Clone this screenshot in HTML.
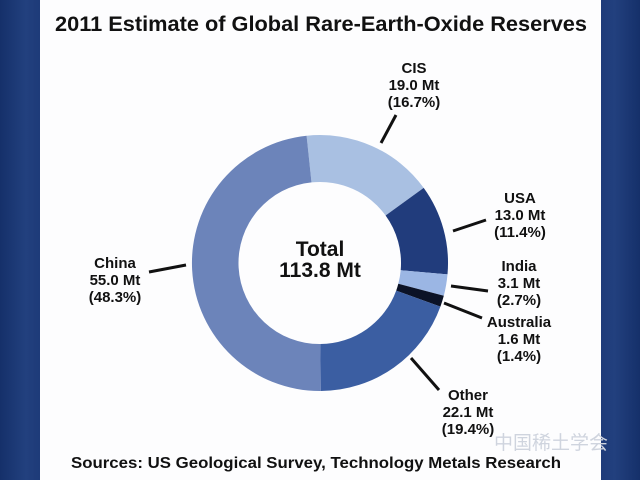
<!DOCTYPE html>
<html><head><meta charset="utf-8"><style>
html,body{margin:0;padding:0;width:640px;height:480px;overflow:hidden;background:#1b3672}
.bg{position:absolute;left:0;top:0;width:640px;height:480px;background:linear-gradient(90deg,#15306a 0%,#22407e 4%,#1d3a78 6.5%,#1d3a78 93.5%,#22407e 96%,#15306a 100%)}
svg{position:absolute;left:0;top:0}
text{font-family:"Liberation Sans",Arial,sans-serif;font-weight:bold;fill:#111}
</style></head><body>
<div class="bg"></div>
<svg width="640" height="480" viewBox="0 0 640 480">
<rect x="40" y="0" width="561" height="480" fill="#fdfdfe"/>
<text x="321" y="31" font-size="21" text-anchor="middle" textLength="532" lengthAdjust="spacingAndGlyphs">2011 Estimate of Global Rare-Earth-Oxide Reserves</text>
<!-- donut -->
<path d="M306.6,135.7 A128,128 0 0 1 423.7,187.9 L385.6,215.5 A81,81 0 0 0 311.5,182.4 Z" fill="#a9c0e2"/>
<path d="M423.7,187.9 A128,128 0 0 1 447.5,274.4 L400.7,270.2 A81,81 0 0 0 385.6,215.5 Z" fill="#213c7c"/>
<path d="M447.5,274.4 A128,128 0 0 1 443.8,295.7 L398.3,283.7 A81,81 0 0 0 400.7,270.2 Z" fill="#9bb6e4"/>
<path d="M443.8,295.7 A128,128 0 0 1 440.4,306.6 L396.2,290.6 A81,81 0 0 0 398.3,283.7 Z" fill="#0b1226"/>
<path d="M440.4,306.6 A128,128 0 0 1 320.7,391 L320.4,344 A81,81 0 0 0 396.2,290.6 Z" fill="#3b5ea2"/>
<path d="M320.7,391 A128,128 0 0 1 306.6,135.7 L311.5,182.4 A81,81 0 0 0 320.4,344 Z" fill="#6c84ba"/>
<!-- leaders -->
<g stroke="#111" stroke-width="3">
<line x1="381" y1="143" x2="396" y2="115"/>
<line x1="453" y1="231" x2="486" y2="220"/>
<line x1="451" y1="286" x2="488" y2="291"/>
<line x1="444" y1="303" x2="482" y2="318"/>
<line x1="411" y1="358" x2="439" y2="390"/>
<line x1="149" y1="272" x2="186" y2="265"/>
</g>
<g font-size="15" text-anchor="middle">
<text x="414" y="73">CIS</text><text x="414" y="90">19.0 Mt</text><text x="414" y="107">(16.7%)</text>
<text x="520" y="203">USA</text><text x="520" y="220">13.0 Mt</text><text x="520" y="237">(11.4%)</text>
<text x="519" y="271">India</text><text x="519" y="288">3.1 Mt</text><text x="519" y="305">(2.7%)</text>
<text x="519" y="327">Australia</text><text x="519" y="344">1.6 Mt</text><text x="519" y="361">(1.4%)</text>
<text x="468" y="400">Other</text><text x="468" y="417">22.1 Mt</text><text x="468" y="434">(19.4%)</text>
<text x="115" y="268">China</text><text x="115" y="285">55.0 Mt</text><text x="115" y="302">(48.3%)</text>
</g>
<text x="320" y="256" font-size="21" text-anchor="middle">Total</text>
<text x="320" y="277" font-size="21" text-anchor="middle">113.8 Mt</text>
<text x="494" y="449" font-size="19" style="font-family:'Liberation Sans','Noto Sans CJK SC',sans-serif;font-weight:normal;fill:#cfd4de">中国稀土学会</text>
<text x="316" y="468" font-size="16" text-anchor="middle" textLength="490" lengthAdjust="spacingAndGlyphs">Sources: US Geological Survey, Technology Metals Research</text>
</svg>
</body></html>
